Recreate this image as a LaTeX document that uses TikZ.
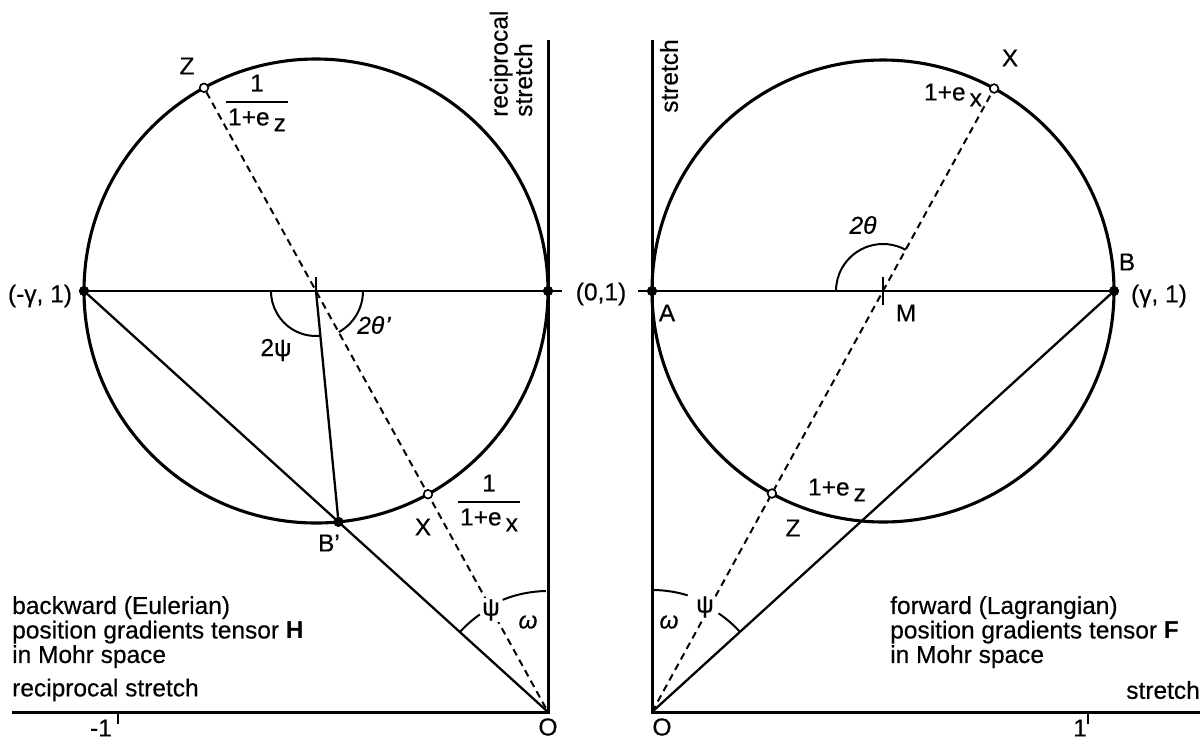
\documentclass[tikz,border=0pt]{standalone}
\usepackage{amsmath}
\usepackage{fontspec}
\setmainfont{Liberation Sans}[UprightFeatures={FakeBold=0.4},ItalicFeatures={FakeBold=0.4}]
\usetikzlibrary{calc}
\newcommand\mohrfrac[2]{$\genfrac{}{}{1.8pt}{0}{\text{\hspace{3pt}#1\hspace{3pt}}}{\text{\hspace{2pt}#2\hspace{2pt}}}$}
\begin{document}
\begin{tikzpicture}[x=1pt,y=-1pt,
  txt/.style={font=\fontsize{24.5}{24.5}\selectfont, inner sep=0pt},
  axisline/.style={line width=3pt},
  circ/.style={line width=3.1pt},
  solidline/.style={line width=2.3pt},
  dashline/.style={line width=2pt, dash pattern=on 7pt off 5pt},
  anglearc/.style={line width=2pt},
  fdot/.style={circle, fill=black, inner sep=0pt, minimum size=10pt},
  odot/.style={circle, draw=black, fill=white, line width=1.5pt, inner sep=0pt, minimum size=8.5pt},
  tick/.style={line width=2.1pt}]
\useasboundingbox (0,0) rectangle (1202,740);

% ---------------- left panel ----------------
\coordinate (CL) at (316,291);
\coordinate (OL) at (548,712);
\coordinate (VTL) at (548,40);
\coordinate (HLL) at (12,712);
\coordinate (HEL) at (562,291);
\draw[circ] (CL) circle (232pt);
\draw[axisline] (VTL) -- (OL) -- (HLL);
\draw[tick] (118,712) -- (118,724);

\node[fdot] (GL) at (84,291) {};
\node[fdot] (IL) at (548,291) {};
\node[fdot] (BpL) at (338.5,521.9) {};
\node[odot] (ZL) at (204.0,87.8) {};
\node[odot] (XL) at (428.0,494.2) {};

\draw[solidline] (GL) -- (HEL);
\draw[solidline] (GL) -- (OL);
\draw[solidline] (CL) -- (BpL);
\draw[tick] (316,277) -- (CL);
\draw[dashline] (ZL) -- (OL);
\draw[anglearc] ([shift={(180:45pt)}]CL) arc[start angle=180, end angle=275.6, radius=45pt];
\draw[anglearc] ([shift={(0:47pt)}]CL) arc[start angle=0, end angle=-61.1, radius=47pt];
\draw[anglearc] ([shift={(91:121pt)}]OL) arc[start angle=91, end angle=112, radius=121pt];
\draw[anglearc] ([shift={(125:119pt)}]OL) arc[start angle=125, end angle=137.8, radius=119pt];
\node[fdot] at (BpL) {};
\node[fdot] at (GL) {};
\node[fdot] at (IL) {};
\node[odot] at (ZL) {};
\node[odot] at (XL) {};

\node[txt] (lZL) at (187,66) {Z};
\node[txt] (fZL) at (257,103) {\mohrfrac{1}{1+e\,\raisebox{-6pt}{z}}};
\node[txt] (lXL) at (423,527) {X};
\node[txt] (fXL) at (489,503) {\mohrfrac{1}{1+e\,\raisebox{-6pt}{x}}};
\node[txt] (lBpL) at (329,543) {B'};
\node[txt] (lGL) at (40,296) {(-γ, 1)};
\node[txt] (l2psi) at (276,350) {2ψ};
\node[txt] (l2thp) at (374,325) {\itshape 2θ\kern1pt'};
\node[txt, fill=white, inner sep=1pt] (lpsiL) at (491,610) {ψ};
\node[txt] (lomL) at (528,622) {\itshape ω};
\node[txt, rotate=90, anchor=west, align=left] (lvrs) at (511,117) {reciprocal\\stretch};
\node[txt, anchor=north west, align=left] (ltxt) at (12,596) {backward (Eulerian)\\position gradients tensor \textbf{H}\\in Mohr space};
\node[txt, anchor=west] (lhrs) at (12,690) {reciprocal stretch};
\node[txt] (lm1) at (101,728) {-1};
\node[txt] (lOL) at (548,727) {O};

% ---------------- right panel ----------------
\coordinate (M) at (883,291);
\coordinate (OR) at (652,712);
\coordinate (VTR) at (652,40);
\coordinate (HRR) at (1200,712);
\coordinate (HSR) at (638,291);
\draw[circ] (M) circle (231pt);
\draw[axisline] (VTR) -- (OR) -- (HRR);
\draw[tick] (1088,712) -- (1088,724);

\node[fdot] (A) at (652,291) {};
\node[fdot] (B) at (1114,291) {};
\node[odot] (ZR) at (771.9,493.5) {};
\node[odot] (XR) at (994.1,88.5) {};

\draw[solidline] (HSR) -- (B);
\draw[solidline] (OR) -- (B);
\draw[dashline] (OR) -- (XR);
\draw[tick] (883,277) -- (883,305);
\draw[anglearc] ([shift={(61.2:47pt)}]M) arc[start angle=61.2, end angle=180, radius=47pt];
\draw[anglearc] ([shift={(89:122pt)}]OR) arc[start angle=89, end angle=73, radius=122pt];
\draw[anglearc] ([shift={(56:119pt)}]OR) arc[start angle=56, end angle=42.3, radius=119pt];
\node[fdot] at (A) {};
\node[fdot] at (B) {};
\node[odot] at (ZR) {};
\node[odot] at (XR) {};

\node[txt] (lXR) at (1010,58) {X};
\node[txt] (lexR) at (953,95) {1+e\,\raisebox{-6pt}{x}};
\node[txt] (lZR) at (793,528) {Z};
\node[txt] (lezR) at (837,490) {1+e\,\raisebox{-6pt}{z}};
\node[txt] (l2th) at (863,225) {\itshape 2θ};
\node[txt] (lB) at (1127,262) {B};
\node[txt] (lgB) at (1159,296) {(γ, 1)};
\node[txt] (l01) at (601,294) {(0,1)};
\node[txt] (lA) at (667,313) {A};
\node[txt] (lM) at (906,313) {M};
\node[txt, fill=white, inner sep=1pt] (lpsiR) at (705,607) {ψ};
\node[txt] (lomR) at (669,622) {\itshape ω};
\node[txt, rotate=90, anchor=west, align=left] (lvs) at (669,113) {stretch};
\node[txt, anchor=north west, align=left] (rtxt) at (890,596) {forward (Lagrangian)\\position gradients tensor \textbf{F}\\in Mohr space};
\node[txt, anchor=east] (lhs) at (1200,690) {stretch};
\node[txt] (l1) at (1080,728) {1};
\node[txt] (lOR) at (662,727) {O};
\end{tikzpicture}
\end{document}
